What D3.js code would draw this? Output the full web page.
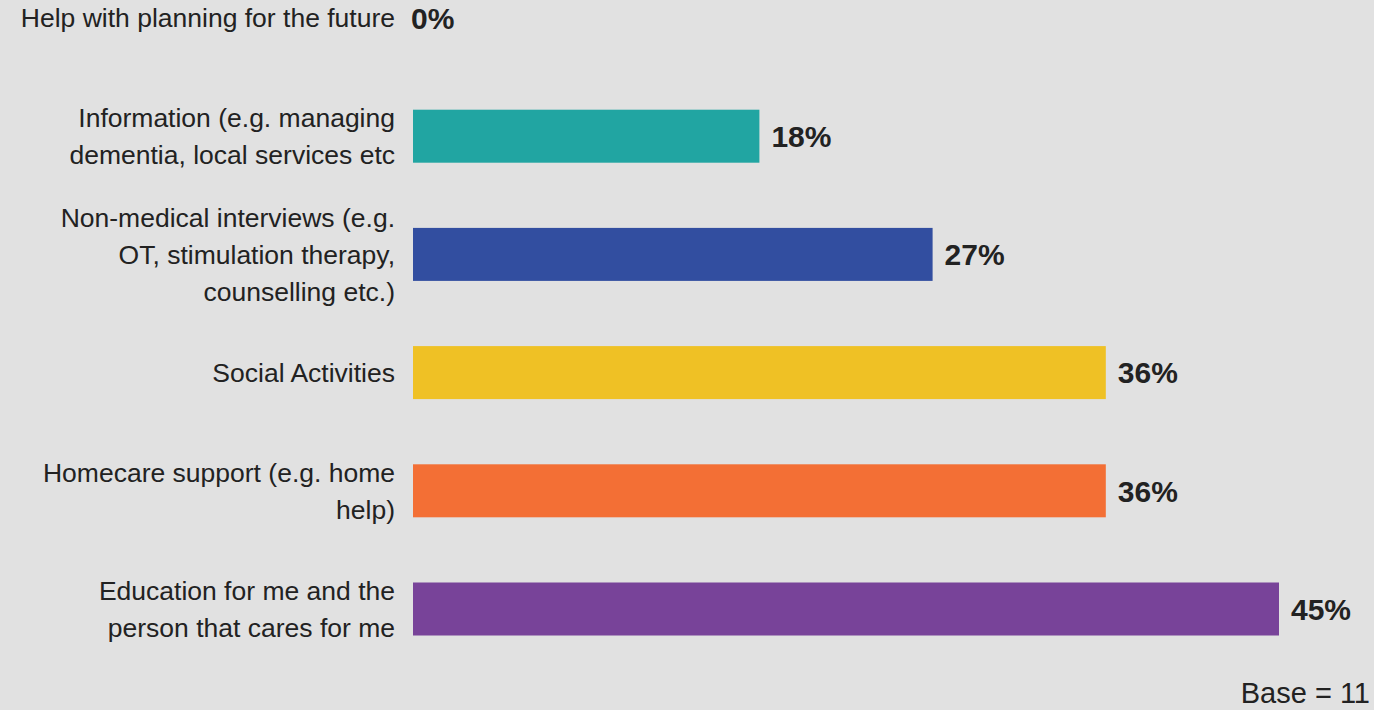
<!DOCTYPE html>
<html>
<head>
<meta charset="utf-8">
<script src="https://cdn.jsdelivr.net/npm/d3@7"></script>
<style>
  html, body { margin: 0; padding: 0; background: #e1e1e1; }
  svg { display: block; }
  text { font-family: "Liberation Sans", Arial, sans-serif; fill: #222; }
</style>
</head>
<body>
<svg id="chart" width="1374" height="710"></svg>
<script>
// Support types (each label split into its display lines)
const categories = [
  ["Help with planning for the future"],
  ["Information (e.g. managing", "dementia, local services etc"],
  ["Non-medical interviews (e.g.", "OT, stimulation therapy,", "counselling etc.)"],
  ["Social Activities"],
  ["Homecare support (e.g. home", "help)"],
  ["Education for me and the", "person that cares for me"]
];
// Share of respondents (%)
const values = [0, 18, 27, 36, 36, 45];
const colors = ["#21a5a2", "#21a5a2", "#324ea0", "#efc125", "#f36f35", "#784399"];
const baseNote = "Base = 11";

const width = 1374, height = 710;
const barLeft = 413;
const rowStep = 118.2;
const firstCenter = 18;
const barHeight = 53;
const lineHeight = 37;
const labelSize = 26.5;

const svg = d3.select("#chart");
const keys = categories.map((c, i) => "c" + i);
const rows = keys.map((k, i) => ({ key: k, lines: categories[i], value: values[i], color: colors[i] }));

const x = d3.scaleLinear().domain([0, 45]).range([barLeft, barLeft + 866]);

const pad = 1 - barHeight / rowStep;
const y = d3.scaleBand()
  .domain(keys)
  .range([firstCenter - rowStep / 2, firstCenter - rowStep / 2 + keys.length * rowStep])
  .paddingInner(pad)
  .paddingOuter(pad / 2);

const center = k => y(k) + y.bandwidth() / 2;

// Bars
svg.append("g").selectAll("rect")
  .data(rows.filter(d => d.value > 0))
  .join("rect")
  .attr("x", x(0))
  .attr("y", d => y(d.key))
  .attr("width", d => x(d.value) - x(0))
  .attr("height", y.bandwidth())
  .attr("fill", d => d.color);

// Category labels, right-aligned, vertically centred on each bar
const capShift = 0.716 * labelSize / 2;
const lbl = svg.append("g").selectAll("text")
  .data(rows)
  .join("text")
  .attr("text-anchor", "end")
  .attr("font-size", labelSize)
  .attr("x", 395)
  .attr("y", d => center(d.key) - (d.lines.length - 1) * lineHeight / 2 + capShift);
lbl.selectAll("tspan")
  .data(d => d.lines)
  .join("tspan")
  .attr("x", 395)
  .attr("dy", (t, i) => i === 0 ? 0 : lineHeight)
  .text(t => t);

// Value labels
svg.append("g").selectAll("text")
  .data(rows)
  .join("text")
  .attr("font-size", 30)
  .attr("font-weight", "bold")
  .attr("x", d => x(d.value) + (d.value > 0 ? 12 : -2))
  .attr("y", d => center(d.key) + 0.716 * 30 / 2)
  .text(d => d.value + "%");

// Base note
svg.append("text")
  .attr("text-anchor", "end")
  .attr("font-size", 29)
  .attr("x", 1370)
  .attr("y", 703)
  .text(baseNote);
</script>
</body>
</html>
